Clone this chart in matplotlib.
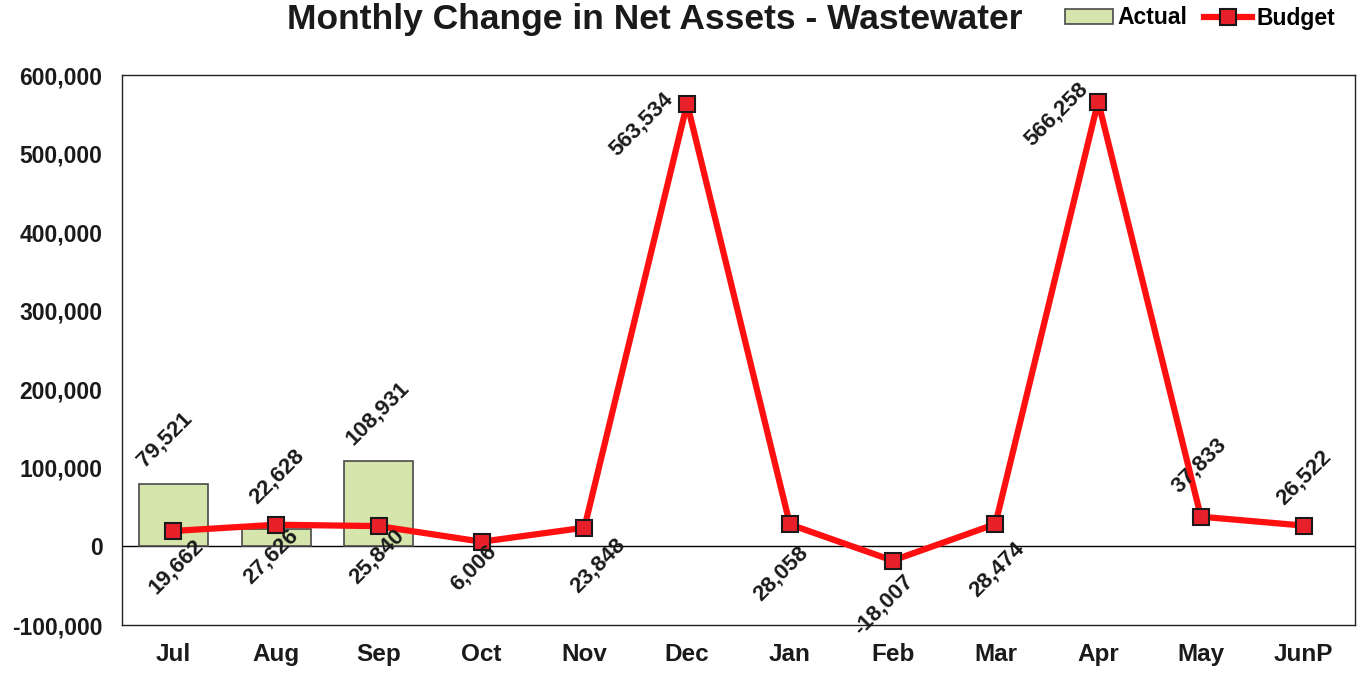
import matplotlib
matplotlib.use("Agg")
import matplotlib.pyplot as plt
from matplotlib.ticker import FuncFormatter
from matplotlib.lines import Line2D
from matplotlib.patches import Patch

months = ["Jul", "Aug", "Sep", "Oct", "Nov", "Dec", "Jan", "Feb", "Mar", "Apr", "May", "JunP"]
actual = [79521, 22628, 108931]
budget = [19662, 27626, 25840, 6006, 23848, 563534, 28058, -18007, 28474, 566258, 37833, 26522]
yticks = [-100000, 0, 100000, 200000, 300000, 400000, 500000, 600000]

# label offsets (pixels) of label centres relative to the data point
budget_off = [(3, -36), (-5, -32), (-2, -30), (-8, -26), (14, -38), (-46, -21),
              (-9, -49), (-9, -44), (2, -45), (-42, -13), (-2, 51), (0, 48)]
actual_off = [(-9, 44), (1, 52), (-1, 48)]

plt.rcParams['font.family'] = ['Liberation Sans', 'DejaVu Sans']
plt.rcParams['font.weight'] = 'bold'

fig = plt.figure(figsize=(13.61, 6.73), dpi=100)
ax = fig.add_axes([122/1361, 1-625/673, (1355-122)/1361, (625-75)/673])

x = list(range(len(months)))
ax.bar(x[:len(actual)], actual, width=0.67, color="#d5e5ab", edgecolor="#4a4a4a", linewidth=1.2, zorder=2)
ax.axhline(0, color="black", linewidth=1.0, zorder=1)
ax.plot(x, budget, color="#ff1010", linewidth=4.5, marker="s", markersize=11,
        markerfacecolor="#e8202a", markeredgecolor="#1a1a1a", markeredgewidth=1.5, zorder=3)

for i, v in enumerate(budget):
    ax.annotate(f"{v:,.0f}", (i, v), xytext=budget_off[i], textcoords="offset pixels",
                rotation=45, ha="center", va="center", fontsize=16, fontweight="bold",
                color="#1a1a1a", rotation_mode="anchor", zorder=4)
for i, v in enumerate(actual):
    ax.annotate(f"{v:,.0f}", (i, v), xytext=actual_off[i], textcoords="offset pixels",
                rotation=45, ha="center", va="center", fontsize=16, fontweight="bold",
                color="#1a1a1a", rotation_mode="anchor", zorder=4)

ax.set_xlim(-0.5, len(months) - 0.5)
ax.set_ylim(-100000, 600000)
ax.set_yticks(yticks)
ax.yaxis.set_major_formatter(FuncFormatter(lambda v, p: f"{v:,.0f}"))
ax.set_xticks(x)
ax.set_xticklabels(months)
ax.tick_params(axis="y", length=0, pad=14, labelsize=16.5, labelcolor="#1a1a1a")
ax.tick_params(axis="x", length=0, pad=13, labelsize=17.5, labelcolor="#1a1a1a")
for lab in ax.get_xticklabels() + ax.get_yticklabels():
    lab.set_fontweight("bold")
for s in ax.spines.values():
    s.set_color("#222222")
    s.set_linewidth(1.0)

fig.text(655/1361, 1-19/673, "Monthly Change in Net Assets - Wastewater", ha="center", va="center",
         fontsize=25.5, fontweight="bold", color="#1a1a1a")

handles = [Patch(facecolor="#d5e5ab", edgecolor="#4a4a4a", linewidth=1.2),
           Line2D([0], [0], color="#ff1010", linewidth=4.5, marker="s", markersize=11,
                  markerfacecolor="#e8202a", markeredgecolor="#1a1a1a", markeredgewidth=1.5)]
fig.legend(handles, ["Actual", "Budget"], loc="center", bbox_to_anchor=(1200/1361, 1-18/673),
           ncol=2, frameon=False, prop={"size": 16.5, "weight": "bold"}, handlelength=2.1,
           handletextpad=0.2, columnspacing=0.7, handleheight=0.6, borderpad=0.2)

fig.savefig("out.png", dpi=100)
